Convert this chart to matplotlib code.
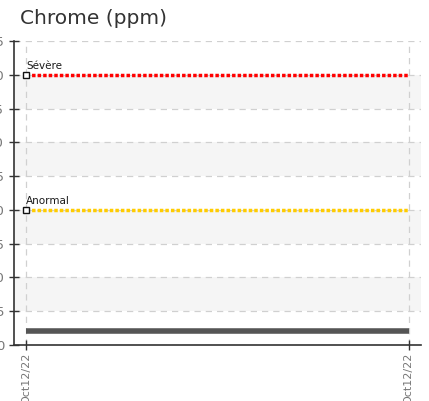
import matplotlib
matplotlib.use("Agg")
import matplotlib.pyplot as plt

title = "Chrome (ppm)"
x_labels = ["Oct12/22", "Oct12/22"]
x_pos = [0, 1]
values = [2, 2]
thresholds = [("Sévère", 40, "#ff0000"), ("Anormal", 20, "#ffcc00")]
y_ticks = [0, 5, 10, 15, 20, 25, 30, 35, 40, 45]

fig = plt.figure(figsize=(4.29, 4.01), dpi=100)
ax = fig.add_axes([14/429, 1-345/401, (421-14)/429, (345-41)/401])
ax.set_xlim(-0.032, 1.032)
ax.set_ylim(0, 45)

for i in range(0, len(y_ticks) - 1):
    if i % 2 == 1:
        ax.axhspan(y_ticks[i], y_ticks[i+1], color="#f5f5f5", zorder=0, lw=0)

ax.set_yticks(y_ticks)
ax.set_xticks(x_pos)
ax.set_xticklabels(x_labels, rotation=90, fontsize=8)
ax.set_yticklabels([str(v) for v in y_ticks], fontsize=9.5)
ax.grid(True, color="#d0d0d0", linestyle=(0, (5, 4)), linewidth=0.9, zorder=1)
ax.tick_params(axis="both", direction="inout", length=7, width=1, colors="#333333",
               labelcolor="#777777")
ax.tick_params(axis="x", pad=2)
for s in ["top", "right"]:
    ax.spines[s].set_visible(False)
for s in ["left", "bottom"]:
    ax.spines[s].set_color("#333333")
    ax.spines[s].set_linewidth(1.2)

for name, val, col in thresholds:
    ax.plot([x_pos[0], x_pos[-1]], [val, val], color=col, linestyle=(0, (1, 0.6)),
            linewidth=2.5, zorder=3)
    ax.plot([x_pos[0]], [val], marker="s", markersize=4.5, markerfacecolor="white",
            markeredgecolor="#111111", markeredgewidth=1, zorder=4, clip_on=False)
    ax.annotate(name, (x_pos[0], val), xytext=(0, 3), textcoords="offset points",
                fontsize=7.5, color="#1a1a1a", ha="left", va="bottom", zorder=5)

ax.plot(x_pos, values, color="#555555", linewidth=4, solid_capstyle="butt", zorder=3)

fig.text(20/429, 1-18/401, title, fontsize=14.5, color="#333333", ha="left", va="center")

fig.savefig("out.png", dpi=100)
